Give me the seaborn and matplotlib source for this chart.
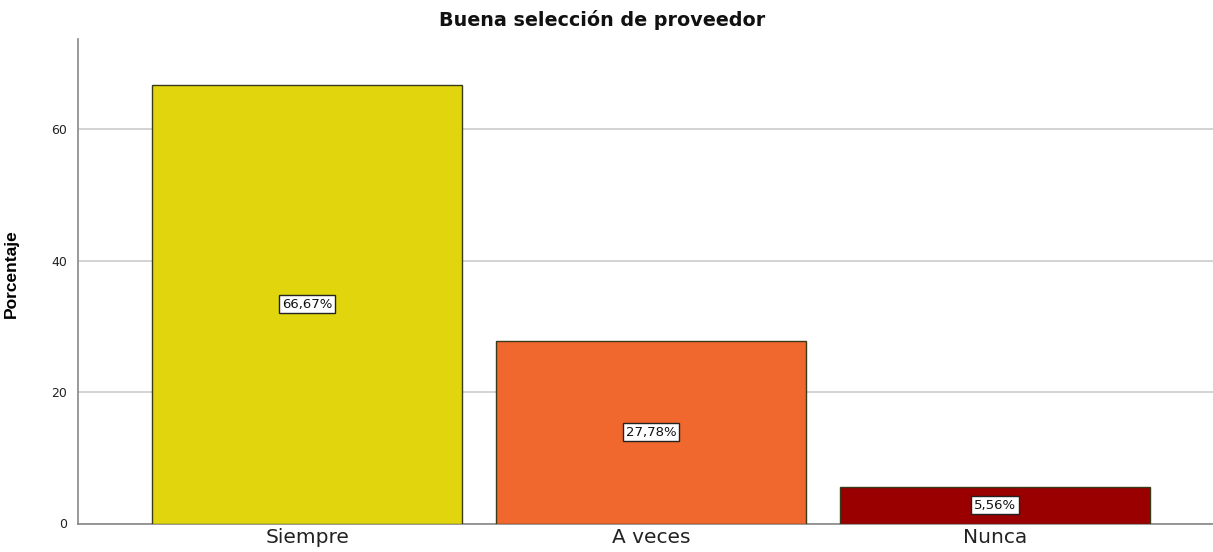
import matplotlib
matplotlib.use("Agg")
import matplotlib.pyplot as plt
import seaborn as sns
import pandas as pd

categories = ["Siempre", "A veces", "Nunca"]
values = [66.67, 27.78, 5.56]
labels = ["66,67%", "27,78%", "5,56%"]
colors = ["#E1D60E", "#F0682E", "#9B0000"]
yticks = [0, 20, 40, 60]

sns.set_theme(style="white")
plt.rcParams['font.family'] = ['DejaVu Sans']

fig = plt.figure(figsize=(12.13, 5.52), dpi=100)
ax = fig.add_axes([78/1213, 1 - 523.5/552, 1 - 78/1213, (523.5 - 39)/552])

df = pd.DataFrame({"cat": categories, "val": values})
sns.barplot(data=df, x="cat", y="val", hue="cat", palette=colors, legend=False,
            width=0.9, saturation=1, edgecolor="#3a3a1a", linewidth=1.0, ax=ax, zorder=3)

ax.set_xlim(-0.666, 2.634)
ax.set_ylim(0, 73.7)
ax.set_yticks(yticks)
ax.set_yticklabels([str(t) for t in yticks], fontsize=9, color="#222222")
ax.yaxis.grid(True, color="#cccccc", linewidth=1.2, zorder=0)
ax.set_axisbelow(True)
ax.tick_params(axis="x", labelsize=14.5, length=0, pad=3, colors="#222222")
ax.tick_params(axis="y", length=0, pad=8)
for s in ["top", "right"]:
    ax.spines[s].set_visible(False)
for s in ["left", "bottom"]:
    ax.spines[s].set_color("#888888")
    ax.spines[s].set_linewidth(1.2)

ax.set_xlabel("")
ax.set_ylabel("Porcentaje", fontsize=12.5, fontweight="bold", family="Liberation Sans",
              color="#000000", labelpad=14)
ax.yaxis.set_label_coords(-0.052, 0.515)
fig.text(0.496, 1 - 20/552, "Buena selección de proveedor", ha="center", va="center",
         fontsize=13.8, fontweight="bold", color="#111111")

for i, (v, lab) in enumerate(zip(values, labels)):
    ax.text(i, v / 2, lab, ha="center", va="center", fontsize=9.5, zorder=5, color="#111111",
            bbox=dict(boxstyle="square,pad=0.2", facecolor="white", edgecolor="#222222", linewidth=1))

fig.savefig("out.png", dpi=100)
